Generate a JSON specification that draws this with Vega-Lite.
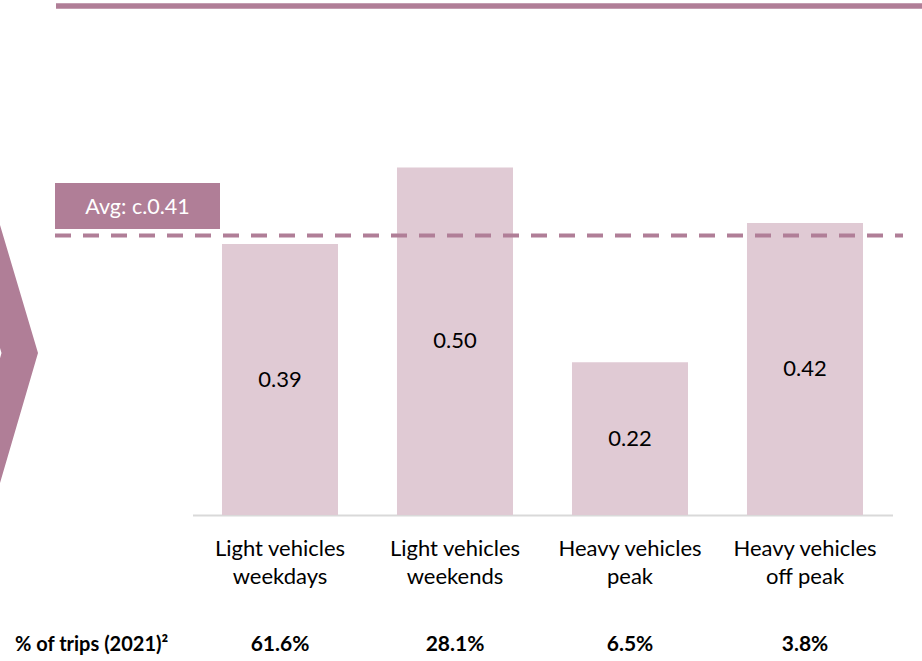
{
  "$schema": "https://vega.github.io/schema/vega-lite/v6.json",
  "width": 922,
  "height": 661,
  "autosize": {"type": "none"},
  "padding": 0,
  "background": "white",
  "config": {"view": {"stroke": null}, "font": "Lato"},
  "datasets": {
    "bars": [
      {"category": "Light vehicles weekdays", "value": 0.39, "label": "0.39", "share": "61.6%"},
      {"category": "Light vehicles weekends", "value": 0.50, "label": "0.50", "share": "28.1%"},
      {"category": "Heavy vehicles peak", "value": 0.22, "label": "0.22", "share": "6.5%"},
      {"category": "Heavy vehicles off peak", "value": 0.42, "label": "0.42", "share": "3.8%"}
    ],
    "avg": [{"avg": 0.41, "label": "Avg: c.0.41"}],
    "rowlabel": [{"label": "% of trips (2021)²"}]
  },
  "resolve": {"scale": {"y": "independent"}},
  "layer": [
    {
      "data": {"name": "avg"},
      "mark": {"type": "rule", "color": "#b07e97", "strokeWidth": 5.5},
      "encoding": {"x": {"value": 56}, "x2": {"value": 922}, "y": {"value": 6}}
    },
    {
      "data": {"name": "avg"},
      "mark": {"type": "point", "filled": true, "opacity": 1, "color": "#b07e97", "strokeWidth": 0, "size": 4,
        "shape": "M-36.5,-128L0,-128L38,0L0,130L-36.5,130L1.5,0Z"},
      "encoding": {"x": {"value": 0}, "y": {"value": 353}}
    },
    {
      "data": {"name": "bars"},
      "mark": {"type": "bar", "color": "#e0cad4"},
      "encoding": {
        "x": {
          "field": "category", "type": "nominal", "sort": null,
          "scale": {"range": [192.5, 892.5], "paddingInner": 0.337, "paddingOuter": 0.1685},
          "axis": {
            "title": null, "orient": "bottom", "offset": -146,
            "domainColor": "#d9d9d9", "domainWidth": 2,
            "ticks": false, "tickSize": 0, "grid": false,
            "labelPadding": 23, "labelFontSize": 22, "labelColor": "#000000",
            "labelFont": "Lato", "labelAngle": 0, "labelLineHeight": 28,
            "labelBaseline": "top", "labelLimit": 0, "labelOverlap": false,
            "labelExpr": "[join(slice(split(datum.label, ' '), 0, 2), ' '), join(slice(split(datum.label, ' '), 2), ' ')]"
          }
        },
        "y": {"field": "value", "type": "quantitative", "scale": {"domain": [-0.21, 0.741], "nice": false, "zero": false}, "axis": null}
      }
    },
    {
      "data": {"name": "bars"},
      "mark": {"type": "text", "fontSize": 22, "baseline": "middle", "color": "#000000"},
      "encoding": {
        "x": {"field": "category", "type": "nominal", "sort": null},
        "y": {"field": "value", "type": "quantitative", "scale": {"domain": [-0.42, 1.482], "nice": false, "zero": false}, "axis": null},
        "text": {"field": "label"}
      }
    },
    {
      "data": {"name": "avg"},
      "mark": {"type": "rect", "color": "#b07e97"},
      "encoding": {"x": {"value": 55}, "x2": {"value": 220}, "y": {"value": 183}, "y2": {"value": 229}}
    },
    {
      "data": {"name": "avg"},
      "mark": {"type": "text", "fontSize": 21.5, "baseline": "middle", "align": "center", "color": "#ffffff"},
      "encoding": {"x": {"value": 137.5}, "y": {"value": 208}, "text": {"field": "label"}}
    },
    {
      "data": {"name": "avg"},
      "mark": {"type": "rule", "color": "#b07e97", "strokeWidth": 4, "strokeDash": [16, 12], "yOffset": 5.5},
      "encoding": {
        "x": {"value": 55}, "x2": {"value": 903},
        "y": {"field": "avg", "type": "quantitative", "scale": {"domain": [-0.21, 0.741], "nice": false, "zero": false}, "axis": null}
      }
    },
    {
      "data": {"name": "bars"},
      "mark": {"type": "text", "fontSize": 21, "fontWeight": "bold", "baseline": "alphabetic", "color": "#000000"},
      "encoding": {
        "x": {"field": "category", "type": "nominal", "sort": null},
        "y": {"value": 651},
        "text": {"field": "share"}
      }
    },
    {
      "data": {"name": "rowlabel"},
      "mark": {"type": "text", "fontSize": 20, "fontWeight": "bold", "baseline": "alphabetic", "align": "left", "color": "#000000"},
      "encoding": {"x": {"value": 15}, "y": {"value": 651}, "text": {"field": "label"}}
    }
  ]
}
